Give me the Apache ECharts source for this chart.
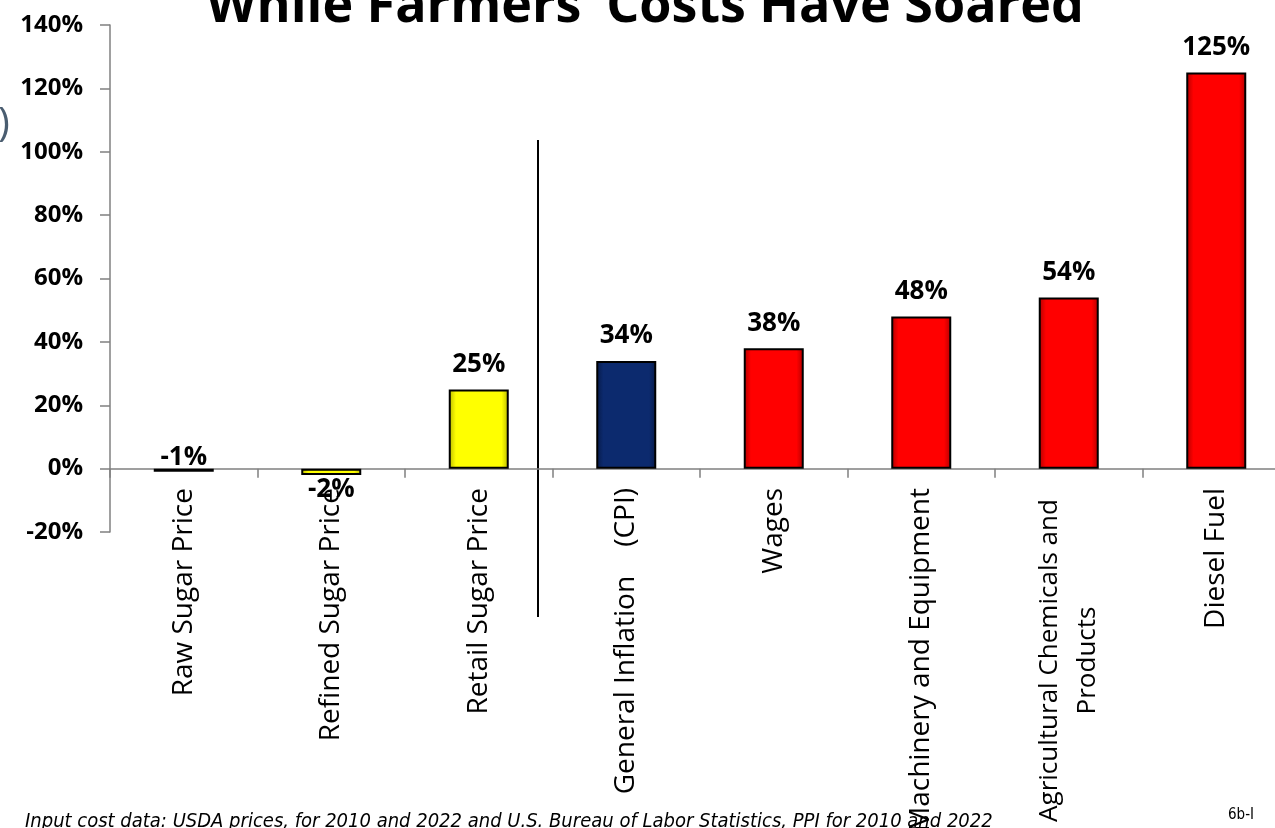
<!DOCTYPE html>
<html>
<head>
<meta charset="utf-8">
<script src="https://cdn.jsdelivr.net/npm/echarts@6/dist/echarts.min.js"></script>
<style>
html,body{margin:0;padding:0;background:#fff;}
#chart{width:1275px;height:828px;}
</style>
</head>
<body>
<div id="chart"></div>
<script>
// ---- data ----
const categories = [
  'Raw Sugar Price',
  'Refined Sugar Price',
  'Retail Sugar Price',
  'General Inflation    (CPI)',
  'Wages',
  'Machinery and Equipment',
  'Agricultural Chemicals and\nProducts',
  'Diesel Fuel'
];
const values = [-1, -2, 25, 34, 38, 48, 54, 125];
const groups = ['raw', 'sugar', 'sugar', 'cpi', 'cost', 'cost', 'cost', 'cost'];
const yMin = -20, yMax = 140, yStep = 20;
const titleText = 'While Farmers\u2019 Costs Have Soared';
const footnote = 'Input cost data: USDA prices, for 2010 and 2022 and U.S. Bureau of Labor Statistics, PPI for 2010 and 2022';
const slideId = '6b-I';

// ---- styles ----
const groupColor = { raw: '#2a2a2a', sugar: '#ffff00', cpi: '#0c2a6e', cost: '#ff0000' };
const groupEdge = { raw: '#111111', sugar: '#b8b800', cpi: '#061a48', cost: '#b00000' };
function fillFor(g) {
  return {
    type: 'linear', x: 0, y: 0, x2: 1, y2: 0,
    colorStops: [
      { offset: 0, color: groupEdge[g] },
      { offset: 0.12, color: groupColor[g] },
      { offset: 0.88, color: groupColor[g] },
      { offset: 1, color: groupEdge[g] }
    ]
  };
}

const seriesData = values.map((v, i) => {
  const d = { value: v, itemStyle: { color: fillFor(groups[i]) } };
  if (v < 0 && v > -1.5) d.label = { position: 'top', distance: -2 };
  else if (v < 0) d.label = { position: 'bottom', distance: 2 };
  return d;
});

const chart = echarts.init(document.getElementById('chart'), null, { renderer: 'canvas' });
const FONT = '"Open Sans", "Noto Sans", sans-serif';

chart.setOption({
  animation: false,
  backgroundColor: '#ffffff',
  grid: { left: 110, right: -15, top: 25, bottom: 296, containLabel: false, outerBoundsMode: 'none' },
  xAxis: {
    type: 'category',
    data: categories,
    axisLine: { onZero: true, lineStyle: { color: '#808080', width: 1.5 } },
    axisTick: { show: true, length: 9, lineStyle: { color: '#808080', width: 1.5 } },
    axisLabel: {
      rotate: 90,
      interval: 0,
      margin: -44,
      color: '#000',
      fontFamily: FONT,
      fontSize: 28,
      formatter: function (v) {
        if (v.indexOf('\n') >= 0) {
          return v.split('\n').map(s => '{c|' + s + '}').join('\n');
        }
        return v;
      },
      rich: {
        c: { width: 345, align: 'center', fontFamily: FONT, fontSize: 26, lineHeight: 38, color: '#000' }
      }
    },
    splitLine: { show: false }
  },
  yAxis: {
    type: 'value',
    min: yMin, max: yMax, interval: yStep,
    axisLine: { show: true, lineStyle: { color: '#808080', width: 1.5 } },
    axisTick: { show: true, length: 10, lineStyle: { color: '#808080', width: 1.5 } },
    axisLabel: {
      margin: 27,
      color: '#000',
      fontFamily: FONT,
      fontWeight: 'bold',
      fontSize: 24,
      formatter: v => v + '%'
    },
    splitLine: { show: false }
  },
  series: [{
    type: 'bar',
    data: seriesData,
    barWidth: 60,
    itemStyle: { borderColor: '#000', borderWidth: 2 },
    label: {
      show: true,
      position: 'top',
      distance: 12,
      color: '#000',
      fontFamily: FONT,
      fontWeight: 'bold',
      fontSize: 26,
      formatter: p => p.value + '%'
    }
  }],
  graphic: [
    {
      type: 'text', x: 645, y: 33,
      style: { text: titleText, fill: '#000', font: 'bold 52px "Open Sans", sans-serif', textAlign: 'center', textVerticalAlign: 'bottom' }
    },
    {
      type: 'text', x: -2, y: 125,
      style: { text: ')', fill: '#4a5d70', font: '40px "Open Sans", sans-serif', textAlign: 'left', textVerticalAlign: 'middle' }
    },
    {
      type: 'line',
      shape: { x1: 538, y1: 140, x2: 538, y2: 617 },
      style: { stroke: '#000', lineWidth: 2 }
    },
    {
      type: 'text', x: 25, y: 812,
      style: { text: footnote, fill: '#000', font: 'italic 20px "Liberation Sans Narrow", "DejaVu Sans Condensed", sans-serif', textAlign: 'left', textVerticalAlign: 'top' }
    },
    {
      type: 'text', x: 1228, y: 808,
      style: { text: slideId, fill: '#000', font: '15px "Liberation Sans Narrow", "DejaVu Sans Condensed", sans-serif', textAlign: 'left', textVerticalAlign: 'top' }
    }
  ]
});
</script>
</body>
</html>
